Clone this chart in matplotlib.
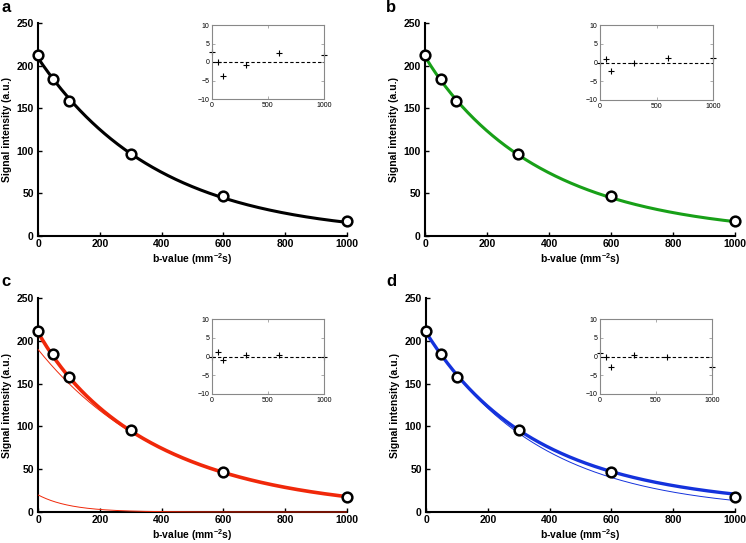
import numpy as np
import matplotlib
matplotlib.use("Agg")
import matplotlib.pyplot as plt

plt.rcParams['font.family'] = ['Liberation Sans', 'DejaVu Sans']
plt.rcParams['mathtext.fontset'] = 'custom'
plt.rcParams['mathtext.bf'] = 'Liberation Sans:bold'
plt.rcParams['mathtext.rm'] = 'Liberation Sans'

# measured data (same in every panel)
b_values = [0, 50, 100, 300, 600, 1000]
signal = [212, 184, 158, 96, 47, 18]

# fitted model parameters
mono_a = dict(S0=209.0, D=2.57e-3)                       # panel a
stretched_b = dict(S0=211.0, D=2.62e-3, alpha=0.963)     # panel b
biexp_c = dict(S_slow=190.0, D=2.36e-3, S_fast=20.0, Dstar=9.5e-3)  # panel c
kurt_d = dict(S0=210.0, D=2.752e-3, K=0.35)              # panel d

# residuals shown in insets (data - fit)
resid_a = [2.8, 0.1, -3.7, -0.8, 2.3, 2.0]
resid_b = [0.0, 1.0, -2.2, 0.0, 1.3, 1.2]
resid_c = [0.0, 1.2, -1.0, 0.3, 0.3, 0.0]
resid_d = [1.0, 0.0, -2.8, 0.3, -0.2, -2.8]

panel_letters = ['a', 'b', 'c', 'd']
colors = ['#000000', '#18a018', '#f0280a', '#1432dc']

bb = np.linspace(0, 1000, 400)

W, H = 746, 543
fig = plt.figure(figsize=(W / 100, H / 100), dpi=100)

def px_axes(l, t, r, btm):
    return fig.add_axes([l / W, 1 - btm / H, (r - l) / W, (btm - t) / H])

main_boxes = [(38, 23, 347, 236), (425, 23, 735, 236),
              (38, 298, 347, 512), (426, 298, 735, 512)]
inset_boxes = [(212, 25, 324, 99), (600, 25, 713, 100),
               (212, 319, 324, 394), (600, 319, 712, 394)]
letter_pos = [(1, 8), (386, 8), (1, 281), (386, 281)]

# curves per panel: list of (y, linewidth)
def curves(i):
    if i == 0:
        p = mono_a
        return [(p['S0'] * np.exp(-bb * p['D']), 2.2)]
    if i == 1:
        p = stretched_b
        return [(p['S0'] * np.exp(-(bb * p['D']) ** p['alpha']), 2.2)]
    if i == 2:
        p = biexp_c
        slow = p['S_slow'] * np.exp(-bb * p['D'])
        fast = p['S_fast'] * np.exp(-bb * p['Dstar'])
        return [(slow, 0.7), (fast, 0.7), (slow + fast, 2.6)]
    p = kurt_d
    mono = p['S0'] * np.exp(-bb * p['D'])
    kurt = p['S0'] * np.exp(-bb * p['D'] + (bb * p['D']) ** 2 * p['K'] / 6)
    return [(mono, 0.7), (kurt, 2.4)]

resids = [resid_a, resid_b, resid_c, resid_d]

for i in range(4):
    ax = px_axes(*main_boxes[i])
    for y, lw in curves(i):
        ax.plot(bb, y, color=colors[i], lw=lw, clip_on=False, zorder=3,
                solid_capstyle='butt')
    ax.plot(b_values, signal, 'o', ms=7, mfc='white', mec='black', mew=1.8,
            clip_on=False, zorder=5)
    ax.set_xlim(0, 1000)
    ax.set_ylim(0, 250)
    ax.set_xticks([0, 200, 400, 600, 800, 1000])
    ax.set_yticks([0, 50, 100, 150, 200, 250])
    for s in ['top', 'right']:
        ax.spines[s].set_visible(False)
    for s in ['left', 'bottom']:
        ax.spines[s].set_linewidth(1.5)
    ax.tick_params(direction='in', length=3, width=1.0, labelsize=7.5, pad=3)
    ax.tick_params(axis='x', pad=2.5)
    for lab in ax.get_xticklabels() + ax.get_yticklabels():
        lab.set_fontweight('bold')
    ax.set_xlabel('b-value (mm$^{\\mathbf{-2}}$s)', fontsize=7.5,
                  fontweight='bold', labelpad=1.5)
    ax.set_ylabel('Signal intensity (a.u.)', fontsize=7.5, fontweight='bold',
                  labelpad=3)
    lx, ly = letter_pos[i]
    fig.text(lx / W, 1 - ly / H, panel_letters[i], fontsize=12,
             fontweight='bold', ha='left', va='center')

    ins = px_axes(*inset_boxes[i])
    ins.axhline(0, color='black', lw=0.8, ls=(0, (3, 2)))
    ins.plot(b_values, resids[i], '+', color='black', ms=5, mew=0.8,
             clip_on=False)
    ins.set_xlim(0, 1000)
    ins.set_ylim(-10, 10)
    ins.set_xticks([0, 500, 1000])
    ins.set_yticks([-10, -5, 0, 5, 10])
    for s in ins.spines.values():
        s.set_color('#888888')
        s.set_linewidth(0.8)
    ins.tick_params(direction='in', length=2, width=0.5, colors='#888888',
                    labelcolor='black', labelsize=5, pad=2,
                    top=True, right=True)

fig.savefig('out.png', dpi=100, facecolor='white')
